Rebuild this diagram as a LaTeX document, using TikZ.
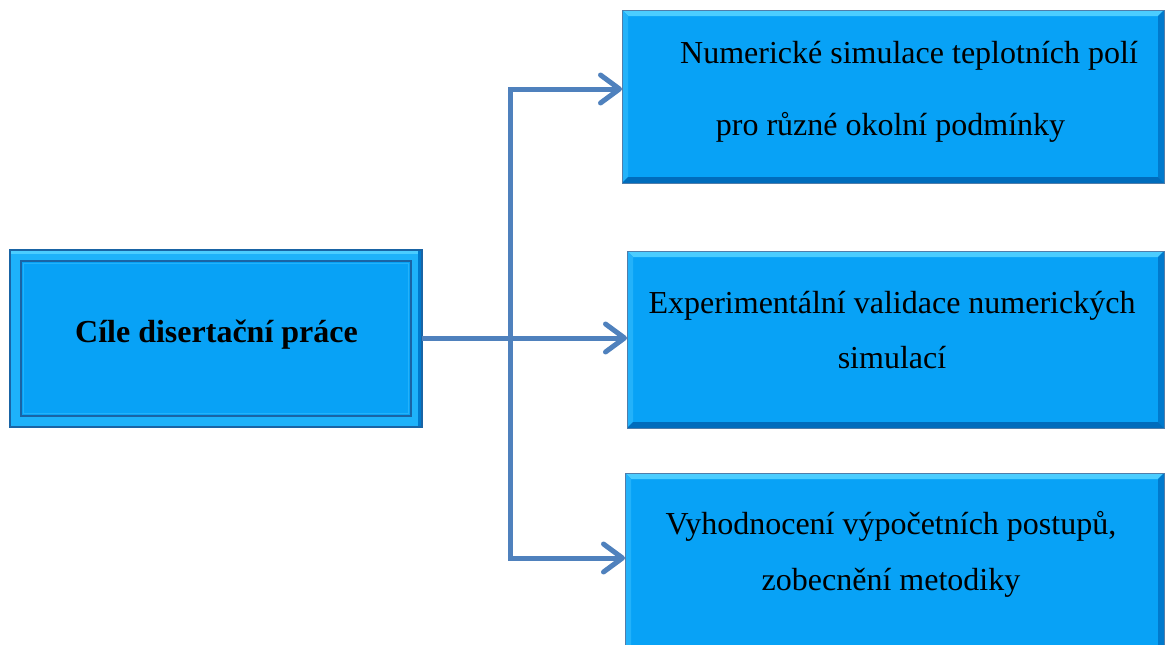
\documentclass[tikz,border=0pt]{standalone}
\usepackage{fontspec}
\setmainfont{Liberation Serif}
\usetikzlibrary{arrows.meta}
\definecolor{boxfill}{RGB}{8,162,246}
\definecolor{bevT}{RGB}{75,205,255}
\definecolor{bevL}{RGB}{35,178,250}
\definecolor{bevR}{RGB}{0,122,205}
\definecolor{bevB}{RGB}{0,108,188}
\definecolor{boxedge}{RGB}{80,125,170}
\definecolor{framedark}{RGB}{25,100,165}
\definecolor{framelight}{RGB}{30,178,250}
\definecolor{conncol}{RGB}{79,129,189}
\def\bevw{6pt}
\tikzset{
  rbox/.style={fill=boxfill, draw=boxedge, line width=0.8pt, inner sep=0pt, outer sep=0pt,
    path picture={
      \fill[bevT] (path picture bounding box.north west) -- (path picture bounding box.north east)
        -- ([xshift=-\bevw,yshift=-\bevw]path picture bounding box.north east)
        -- ([xshift=\bevw,yshift=-\bevw]path picture bounding box.north west) -- cycle;
      \fill[bevL] (path picture bounding box.north west) -- (path picture bounding box.south west)
        -- ([xshift=\bevw,yshift=\bevw]path picture bounding box.south west)
        -- ([xshift=\bevw,yshift=-\bevw]path picture bounding box.north west) -- cycle;
      \fill[bevR] (path picture bounding box.north east) -- (path picture bounding box.south east)
        -- ([xshift=-\bevw,yshift=\bevw]path picture bounding box.south east)
        -- ([xshift=-\bevw,yshift=-\bevw]path picture bounding box.north east) -- cycle;
      \fill[bevB] (path picture bounding box.south west) -- (path picture bounding box.south east)
        -- ([xshift=-\bevw,yshift=\bevw]path picture bounding box.south east)
        -- ([xshift=\bevw,yshift=\bevw]path picture bounding box.south west) -- cycle;
    }},
  lbox/.style={fill=boxfill, draw=framedark, line width=1.5pt, inner sep=0pt, outer sep=0pt,
    path picture={
      \fill[framelight] (path picture bounding box.north west) rectangle (path picture bounding box.south east);
      \fill[bevT] ([xshift=1pt,yshift=-1pt]path picture bounding box.north west) rectangle ([xshift=-1pt,yshift=-4pt]path picture bounding box.north east);
      \fill[bevR] ([xshift=-4pt,yshift=-1pt]path picture bounding box.north east) rectangle ([xshift=-1pt,yshift=1pt]path picture bounding box.south east);
      \fill[boxfill] ([xshift=11pt,yshift=-11pt]path picture bounding box.north west) rectangle ([xshift=-11pt,yshift=11pt]path picture bounding box.south east);
      \draw[framedark, line width=2.5pt] ([xshift=11pt,yshift=-11pt]path picture bounding box.north west) rectangle ([xshift=-11pt,yshift=11pt]path picture bounding box.south east);
      \draw[bevL, line width=1.2pt] ([xshift=13.5pt,yshift=-13.5pt]path picture bounding box.north west) rectangle ([xshift=-13.5pt,yshift=13.5pt]path picture bounding box.south east);
    }},
  txt/.style={font=\fontsize{32}{38}\selectfont, text=black, inner sep=0pt, anchor=base},
  btxt/.style={txt, font=\fontsize{32}{38}\selectfont\bfseries},
  conn/.style={draw=conncol, line width=5pt, line join=miter},
  tip/.style={-{Straight Barb[length=19pt,width=28pt,line width=5pt,round]}},
  dtip/.style={{Straight Barb[length=19pt,width=28pt,line width=5pt,round]}-{Straight Barb[length=19pt,width=28pt,line width=5pt,round]}}
}
\begin{document}
\begin{tikzpicture}[x=1pt,y=-1pt]
\useasboundingbox (0,0) rectangle (1165,645);
\clip (0,0) rectangle (1165,645);
\fill[white] (0,0) rectangle (1165,645);
% boxes
\node[lbox, minimum width=412pt, minimum height=177pt] (L) at (216,338.5) {};
\node[rbox, minimum width=542pt, minimum height=173pt] (T) at (893,96.5) {};
\node[rbox, minimum width=537pt, minimum height=177pt] (M) at (895.5,339.5) {};
\node[rbox, minimum width=539pt, minimum height=180pt] (B) at (894.5,563) {};
% texts
\node[btxt] (lt) at (216.5,342) {Cíle disertační práce};
\node[txt] (t1) at (909,63) {Numerické simulace teplotních polí};
\node[txt] (t2) at (890.5,135) {pro různé okolní podmínky};
\node[txt] (m1) at (892,313) {Experimentální validace numerických};
\node[txt] (m2) at (892,368) {simulací};
\node[txt] (b1) at (891,534) {Vyhodnocení výpočetních postupů,};
\node[txt] (b2) at (891,590) {zobecnění metodiky};
% connectors
\coordinate (jt) at (510,89);
\coordinate (jb) at (510,558);
\coordinate (lm) at (422,338);
\draw[conn, tip] (lm) -- (lm -| M.west);
\draw[conn, dtip] (jt -| T.west) -- (jt) -- (jb) -- (jb -| B.west);
\end{tikzpicture}
\end{document}
